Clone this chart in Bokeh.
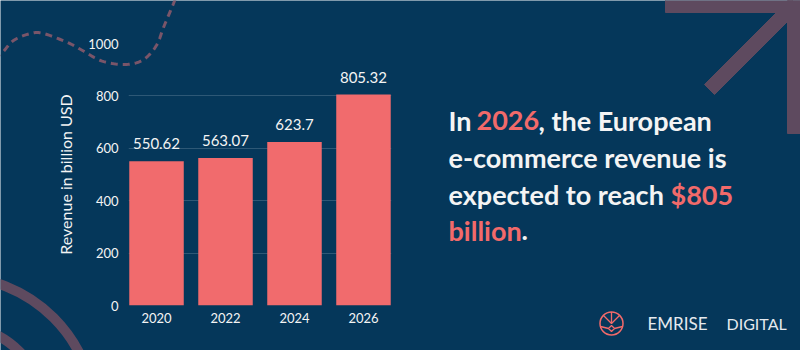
import numpy as np
from bokeh.plotting import figure
from bokeh.models import (ColumnDataSource, FactorRange, Range1d, FixedTicker, LabelSet)
from bokeh.embed import file_html
from bokeh.resources import INLINE
from bokeh.core.properties import value

# ---------------- data ----------------
years = ["2020", "2022", "2024", "2026"]
revenue = [550.62, 563.07, 623.7, 805.32]
revenue_labels = ["550.62", "563.07", "623.7", "805.32"]
y_ticks = [0, 200, 400, 600, 800, 1000]

# ---------------- styles ----------------
BG = "#05375A"
BAR = "#F16B6D"
CORAL = "#F26A6A"
GRID = "#2E5876"
DECO = "#5E4A5F"
DASH = "#7A5569"
WHITE = "#F4F4F4"
FONT = "Lato"

# ================= background figure (decorations + headline) =================
bg = figure(width=800, height=350, x_range=Range1d(0, 800), y_range=Range1d(350, 0),
            x_axis_type=None, y_axis_type=None, min_border=0,
            output_backend="svg", toolbar_location=None,
            background_fill_color=BG, border_fill_color=BG, outline_line_color=None)
bg.xgrid.visible = False
bg.ygrid.visible = False


def catmull(pts, n=12):
    pts = np.asarray(pts, float)
    P = np.vstack([pts[0], pts, pts[-1]])
    out = []
    for i in range(1, len(P) - 2):
        p0, p1, p2, p3 = P[i - 1], P[i], P[i + 1], P[i + 2]
        for t in np.linspace(0, 1, n, endpoint=False):
            t2, t3 = t * t, t * t * t
            out.append(0.5 * ((2 * p1) + (-p0 + p2) * t + (2 * p0 - 5 * p1 + 4 * p2 - p3) * t2
                              + (-p0 + 3 * p1 - 3 * p2 + p3) * t3))
    out.append(P[-2])
    return np.array(out)


curve_pts = [(-6, 58), (2, 52), (13, 40), (30, 33), (43, 33), (67, 42), (82, 50), (100, 60),
             (120, 64), (137, 62), (148, 55), (157, 43), (163, 27), (173, 3), (176, -6)]
c = catmull(curve_pts)
bg.line(c[:, 0], c[:, 1], line_color=DASH, line_width=3, line_dash="7 5")

# rings bottom-left
bg.circle(x=[-46.6, -46.6], y=[417, 417], radius=[141, 93], fill_alpha=0,
          line_color=DECO, line_width=10)

# arrow top-right
bg.patches(xs=[[665, 805, 805, 665], [787, 805, 805, 787], [704, 714, 800, 790]],
           ys=[[-5, -5, 12, 12], [-5, -5, 133, 133], [84, 94, 8, -2]],
           fill_color=DECO, line_color=DECO, line_width=1)

# headline text
headline = [
    ("In ", 448, 120, WHITE), ("2026", 476, 120, CORAL), (", the European", 538, 120, WHITE),
    ("e-commerce revenue is", 448, 157, WHITE),
    ("expected to reach", 448, 194, WHITE), ("$805", 670, 194, CORAL),
    ("billion", 448, 230, CORAL), (".", 521, 230, WHITE),
]
for txt, x, y, col in headline:
    bg.text(x=[x], y=[y], text=[txt], text_font=value(FONT), text_font_size="27px",
            text_font_style="bold", text_color=col, text_baseline="alphabetic")

# logo
lcx, lcy, lr = 611, 323, 11.5
bg.circle(x=[lcx], y=[lcy], radius=lr, fill_alpha=0, line_color=CORAL, line_width=1.5)
bg.multi_line(xs=[[lcx, lcx], [lcx - 8, lcx, lcx + 8], [lcx, lcx - 3, lcx, lcx + 3, lcx],
                  [lcx - 11, lcx - 3], [lcx + 11, lcx + 3]],
              ys=[[lcy - lr, lcy], [lcy - 8, lcy, lcy - 8], [lcy + 2, lcy + 5, lcy + 8, lcy + 5, lcy + 2],
                  [lcy + 3, lcy + 5], [lcy + 3, lcy + 5]],
              line_color=CORAL, line_width=1.3)
bg.text(x=[677], y=[323], text=["EMRISE"], text_font=value(FONT), text_font_size="17px",
        text_color="#E6EAEE", text_baseline="alphabetic", text_align="center")
bg.text(x=[726], y=[323], text=["DIGITAL"], text_font=value(FONT), text_font_size="16px",
        text_color="#E6EAEE", text_baseline="alphabetic")

# ================= chart figure (overlaid, transparent) =================
src = ColumnDataSource(dict(year=years, rev=revenue, label=revenue_labels))

p = figure(
    width=800, height=350,
    x_range=FactorRange(*years, range_padding=-0.094, range_padding_units="absolute"),
    y_range=Range1d(0, 1000),
    min_border_left=128, min_border_right=409, min_border_top=43, min_border_bottom=45,
    output_backend="svg", toolbar_location=None,
    background_fill_alpha=0, border_fill_alpha=0, outline_line_color=None,
    margin=(-350, 0, 0, 0),
)

p.vbar(x="year", top="rev", width=0.79, source=src, fill_color=BAR, line_color=None)

p.add_layout(LabelSet(x="year", y="rev", text="label", source=src, y_offset=12,
                      text_align="center", text_baseline="alphabetic",
                      text_font=value(FONT), text_font_size="15px", text_color=WHITE))

p.xgrid.grid_line_color = None
p.ygrid.grid_line_color = GRID
p.ygrid.grid_line_width = 1
p.yaxis.ticker = FixedTicker(ticks=y_ticks)
for ax in (p.xaxis[0], p.yaxis[0]):
    ax.axis_line_color = None
    ax.major_tick_line_color = None
    ax.minor_tick_line_color = None
    ax.major_tick_out = 0
    ax.major_tick_in = 0
    ax.major_label_text_color = WHITE
    ax.major_label_text_font = FONT
    ax.major_label_text_font_size = "13px"
p.yaxis.major_label_standoff = 10
p.xaxis.major_label_standoff = 7
p.yaxis.axis_label = "Revenue in billion USD"
p.yaxis.axis_label_text_font = FONT
p.yaxis.axis_label_text_font_size = "16px"
p.yaxis.axis_label_text_font_style = "normal"
p.yaxis.axis_label_text_color = WHITE
p.yaxis.axis_label_standoff = 10

open("out.html", "w").write(file_html([bg, p], INLINE))
